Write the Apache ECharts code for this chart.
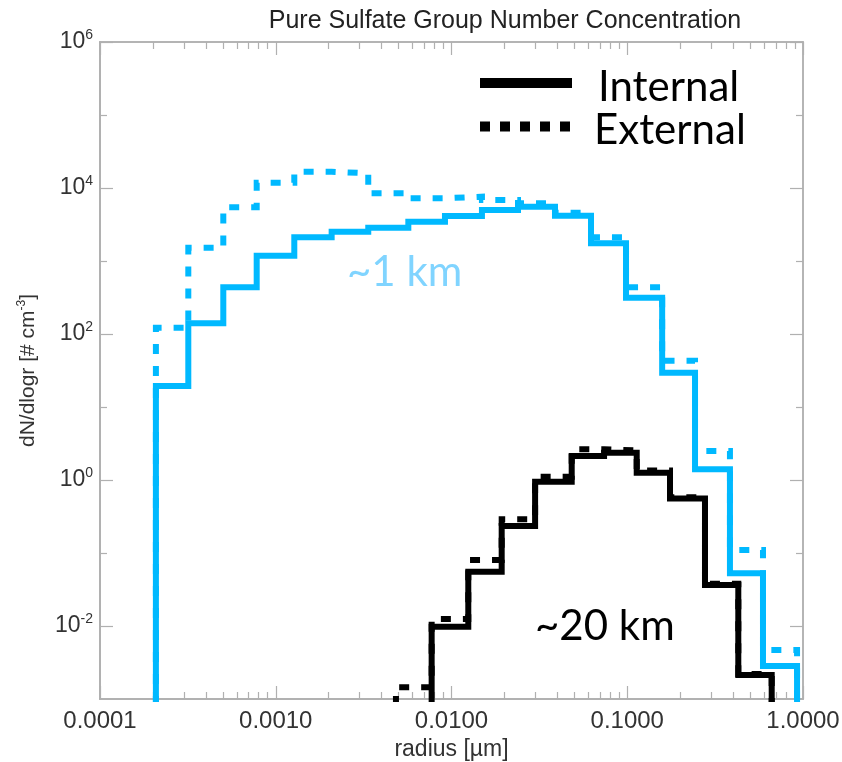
<!DOCTYPE html>
<html>
<head>
<meta charset="utf-8">
<script src="https://cdn.jsdelivr.net/npm/echarts@6/dist/echarts.min.js"></script>
<style>
  html, body { margin: 0; padding: 0; background: #fff; }
  #chart { width: 842px; height: 762px; }
</style>
</head>
<body>
<div id="chart"></div>
<script>
// 纯硫酸盐组 数浓度谱 — 分档阶梯线（对数坐标）

// ~1 km 曲线的分档边界 (µm)
const blueEdges = [2.08e-4, 3.18e-4, 5.03e-4, 7.79e-4, 1.275e-3, 2.08e-3, 3.36e-3, 5.68e-3,
  9.18e-3, 0.0149, 0.0239, 0.0388, 0.0622, 0.0984, 0.158, 0.243, 0.384, 0.592, 0.925];
const blueInternal = [19.4, 140, 437, 1183, 2113, 2515, 2860, 3450, 4130, 5000, 5550,
  4180, 1747, 314, 29.5, 1.4, 0.053, 0.00283];
const blueExternal = [122, 1520, 5440, 11800, 16700, 15900, 8450, 7230, 7600, 6850, 6170,
  4590, 2110, 437, 43, 2.5, 0.11, 0.0047];

// ~20 km 曲线
const blackEdges = [4.83e-3, 7.71e-3, 0.01246, 0.0193, 0.0299, 0.0483, 0.0738, 0.1132,
  0.1751, 0.2769, 0.4284, 0.6636];
const blackInternal = [null, 0.0098, 0.0555, 0.234, 0.95, 2.13, 2.37, 1.26, 0.56, 0.0365, 0.00213];
const blackExternal = [0.00145, 0.0125, 0.08, 0.29, 1.11, 2.63, 2.55, 1.35, 0.58, 0.038, 0.0022];

const xTickDecades = [-4, -3, -2, -1, 0];
const yLabelExps = [-2, 0, 2, 4, 6];
const yMinorExps = [-1, 1, 3, 5];

const BLUE = '#00b9ff';
const FLOOR = 1e-4; // 低于 y 轴下限，被裁剪
const FONT = 'Liberation Sans';
const AXIS_GRAY = '#b0b0b0';

// 直方阶梯：每档左右边界各一个点
function stepPoints(edges, values) {
  const pts = [];
  let last = null;
  values.forEach((v, k) => {
    if (v == null) return;
    if (!pts.length) pts.push([edges[k], FLOOR]);
    pts.push([edges[k], v], [edges[k + 1], v]);
    last = edges[k + 1];
  });
  pts.push([last, FLOOR]);
  return pts;
}

// x 次刻度 2..9 × 10^d（对数值）
const xMinor = [];
xTickDecades.slice(0, -1).forEach(d => {
  for (let k = 2; k <= 9; k++) xMinor.push(d + Math.log10(k));
});

function tickAxis(position, min, max, values, len) {
  return {
    type: 'value', position, min, max,
    axisLine: { show: true, onZero: false, lineStyle: { color: AXIS_GRAY, width: 1.5 } },
    axisTick: { show: true, inside: true, length: len, customValues: values,
      lineStyle: { color: AXIS_GRAY, width: 1.2 } },
    axisLabel: { show: false },
    splitLine: { show: false },
  };
}

function series(data, color, dashed) {
  return {
    type: 'line', data, xAxisIndex: 0, yAxisIndex: 0,
    symbol: 'none', silent: true, animation: false, clip: true,
    lineStyle: { color, width: 6, type: dashed ? [10, 12] : 'solid', cap: 'butt', join: 'miter' },
  };
}

const chart = echarts.init(document.getElementById('chart'));
chart.setOption({
  backgroundColor: '#fff',
  textStyle: { fontFamily: FONT },
  title: {
    text: 'Pure Sulfate Group Number Concentration',
    left: 500, top: 4, textAlign: 'center',
    textStyle: { fontFamily: FONT, fontSize: 25, fontWeight: 'normal', color: '#222' },
  },
  grid: { left: 100, top: 42, width: 703, height: 657, outerBoundsMode: 'none', containLabel: false },
  xAxis: [
    {
      type: 'log', logBase: 10, min: 1e-4, max: 1, position: 'bottom',
      axisLine: { show: true, onZero: false, lineStyle: { color: AXIS_GRAY, width: 1.5 } },
      axisTick: { show: false },
      splitLine: { show: false },
      axisLabel: {
        margin: 10, fontSize: 24, color: '#333', fontFamily: FONT,
        showMinLabel: true, showMaxLabel: true,
        formatter: v => v.toFixed(4),
      },
      name: 'radius [µm]', nameLocation: 'middle', nameGap: 35,
      nameTextStyle: { fontSize: 23, color: '#333', fontFamily: FONT },
    },
    tickAxis('bottom', -4, 0, xTickDecades, 13),
    tickAxis('bottom', -4, 0, xMinor, 7),
    tickAxis('top', -4, 0, xTickDecades, 13),
    tickAxis('top', -4, 0, xMinor, 7),
  ],
  yAxis: [
    {
      type: 'log', logBase: 10, min: 1e-3, max: 1e6, position: 'left',
      axisLine: { show: true, onZero: false, lineStyle: { color: AXIS_GRAY, width: 1.5 } },
      axisTick: { show: false },
      splitLine: { show: false },
      axisLabel: {
        margin: 7, showMinLabel: true, showMaxLabel: true,
        formatter: v => {
          const e = Math.round(Math.log10(v));
          return yLabelExps.includes(e) ? '{b|10}{s|' + e + '}' : '';
        },
        rich: {
          b: { fontSize: 23, lineHeight: 28, color: '#333', fontFamily: FONT },
          s: { fontSize: 14, lineHeight: 16, verticalAlign: 'top', color: '#333', fontFamily: FONT },
        },
      },
      name: '{n|dN/dlogr [# cm}{s|-3}{n|]}', nameLocation: 'middle', nameGap: 60,
      nameTextStyle: {
        rich: {
          n: { fontSize: 21, lineHeight: 24, color: '#333', fontFamily: FONT },
          s: { fontSize: 12, lineHeight: 14, verticalAlign: 'top', color: '#333', fontFamily: FONT },
        },
      },
    },
    tickAxis('left', -3, 6, yLabelExps, 13),
    tickAxis('left', -3, 6, yMinorExps, 7),
    tickAxis('right', -3, 6, yLabelExps, 13),
    tickAxis('right', -3, 6, yMinorExps, 7),
  ],
  series: [
    series(stepPoints(blueEdges, blueExternal), BLUE, true),
    series(stepPoints(blueEdges, blueInternal), BLUE, false),
    series(stepPoints(blackEdges, blackExternal), '#000', true),
    series(stepPoints(blackEdges, blackInternal), '#000', false),
  ],
  graphic: [
    { type: 'line', shape: { x1: 480, y1: 83, x2: 572, y2: 83 },
      style: { stroke: '#000', lineWidth: 10 } },
    { type: 'line', shape: { x1: 480, y1: 126.5, x2: 570, y2: 126.5 },
      style: { stroke: '#000', lineWidth: 10, lineDash: [10, 10] } },
    { type: 'text', x: 598, y: 87,
      style: { text: 'Internal', font: '42px Lato', fill: '#000',
        verticalAlign: 'middle', textVerticalAlign: 'middle' } },
    { type: 'text', x: 594, y: 130,
      style: { text: 'External', font: '42px Lato', fill: '#000',
        verticalAlign: 'middle', textVerticalAlign: 'middle' } },
    { type: 'text', x: 347, y: 272,
      style: { text: '~1 km', font: '42px Lato', fill: '#80d4ff',
        verticalAlign: 'middle', textVerticalAlign: 'middle' } },
    { type: 'text', x: 535, y: 626,
      style: { text: '~20 km', font: '42px Lato', fill: '#000',
        verticalAlign: 'middle', textVerticalAlign: 'middle' } },
  ],
});
</script>
</body>
</html>
